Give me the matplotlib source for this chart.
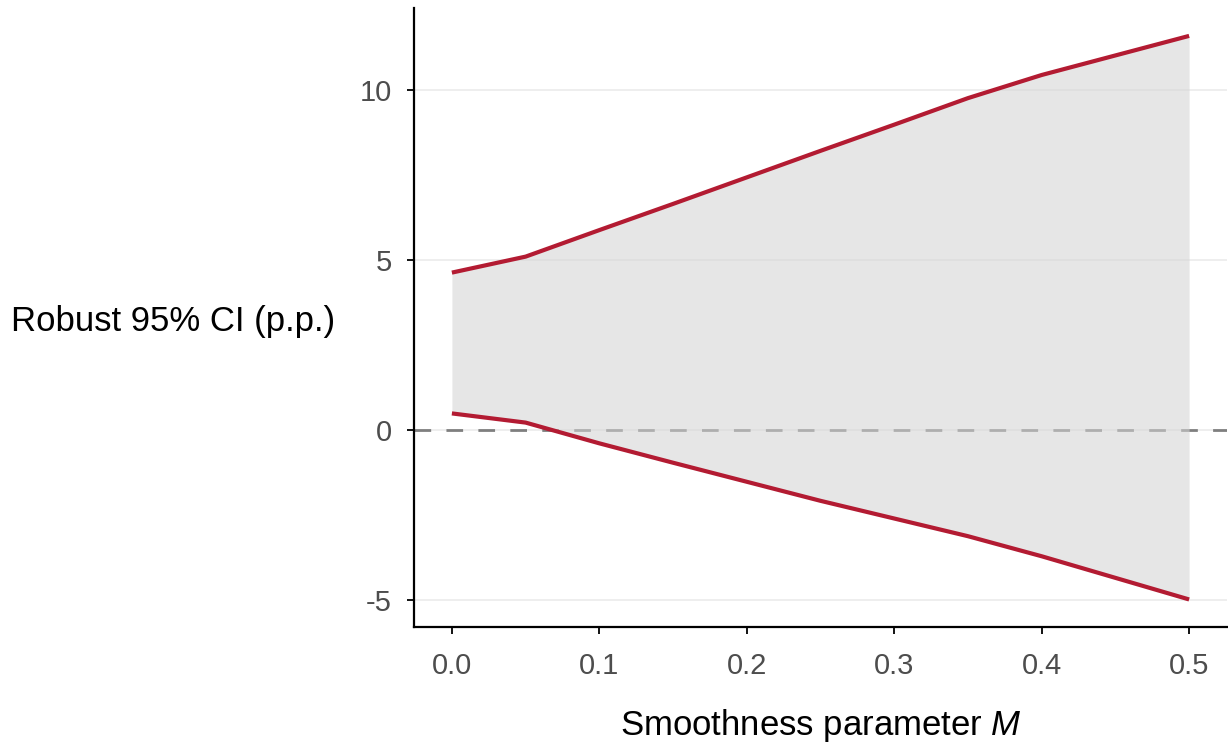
import matplotlib
matplotlib.use("Agg")
import matplotlib.pyplot as plt
import numpy as np

plt.rcParams['font.family'] = ['Liberation Sans', 'DejaVu Sans']
plt.rcParams['mathtext.fontset'] = 'custom'
plt.rcParams['mathtext.it'] = 'Liberation Sans:italic'
plt.rcParams['mathtext.rm'] = 'Liberation Sans'

M = [0.0, 0.05, 0.10, 0.15, 0.20, 0.25, 0.30, 0.35, 0.40, 0.50]
upper = [4.63, 5.10, 5.88, 6.65, 7.43, 8.21, 8.98, 9.76, 10.44, 11.59]
lower = [0.49, 0.22, -0.39, -0.96, -1.52, -2.08, -2.60, -3.12, -3.71, -4.98]

xticks = [0.0, 0.1, 0.2, 0.3, 0.4, 0.5]
xticklabels = ["0.0", "0.1", "0.2", "0.3", "0.4", "0.5"]
yticks = [-5, 0, 5, 10]
yticklabels = ["-5", "0", "5", "10"]

fig = plt.figure(figsize=(12.28, 7.48), dpi=100)
ax = fig.add_axes([414/1228, 1-627/748, (1227-414)/1228, (627-8)/748])

ax.set_xlim(-0.0257, 0.5257)
ax.set_ylim(-5.79, 12.41)

for y in yticks:
    ax.axhline(y, color='#ebebeb', lw=1.2, zorder=0)

ax.axhline(0, color='#7f7f7f', lw=2.0, ls=(0, (6, 5.5)), zorder=1)
ax.fill_between(M, lower, upper, color=(212/255, 212/255, 212/255), alpha=0.56, lw=0, zorder=2)
ax.plot(M, upper, color='#b31b32', lw=3.0, zorder=3, solid_capstyle='butt')
ax.plot(M, lower, color='#b31b32', lw=3.0, zorder=3, solid_capstyle='butt')

ax.set_xticks(xticks)
ax.set_xticklabels(xticklabels)
ax.set_yticks(yticks)
ax.set_yticklabels(yticklabels)
ax.tick_params(axis='both', direction='out', length=5, width=1.3, colors='black',
               labelcolor='#4d4d4d', labelsize=21)
ax.tick_params(axis='y', pad=11)
ax.tick_params(axis='x', pad=13)

for s in ['top', 'right']:
    ax.spines[s].set_visible(False)
for s in ['left', 'bottom']:
    ax.spines[s].set_linewidth(1.6)
    ax.spines[s].set_color('black')

fig.text(821/1228, 1-726/748, "Smoothness parameter $\\mathit{M}$", fontsize=25,
         ha='center', va='center', color='black')
fig.text(335/1228, 1-322/748, "Robust 95% CI (p.p.)", fontsize=25, ha='right', va='center', color='black')

fig.savefig("out.png", dpi=100)
